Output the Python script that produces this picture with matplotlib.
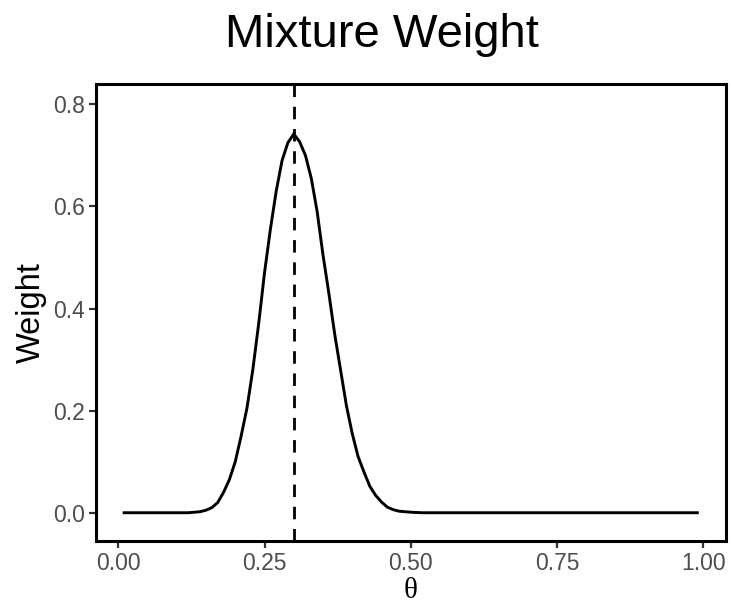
import numpy as np
import matplotlib
matplotlib.use("Agg")
import matplotlib.pyplot as plt

# theta grid 0.01 .. 0.99
theta = np.round(np.arange(1, 100) / 100, 2)

# weights (non-zero part between 0.12 and 0.51)
theta_nz = [0.12, 0.13, 0.14, 0.15, 0.16, 0.17, 0.18, 0.19, 0.20, 0.21,
            0.22, 0.23, 0.24, 0.25, 0.26, 0.27, 0.28, 0.29, 0.30, 0.31,
            0.32, 0.33, 0.34, 0.35, 0.36, 0.37, 0.38, 0.39, 0.40, 0.41,
            0.42, 0.43, 0.44, 0.45, 0.46, 0.47, 0.48, 0.49, 0.50, 0.51]
weight_nz = [0.000, 0.001, 0.002, 0.005, 0.010, 0.020, 0.040, 0.065, 0.100, 0.150,
             0.205, 0.280, 0.370, 0.470, 0.555, 0.630, 0.690, 0.725, 0.742, 0.727,
             0.700, 0.655, 0.590, 0.505, 0.430, 0.350, 0.280, 0.210, 0.155, 0.110,
             0.080, 0.052, 0.034, 0.021, 0.011, 0.006, 0.003, 0.002, 0.001, 0.0005]

weight = np.zeros_like(theta)
for t, w in zip(theta_nz, weight_nz):
    weight[np.argmin(np.abs(theta - t))] = w

true_theta = 0.30

x_ticks = [0.00, 0.25, 0.50, 0.75, 1.00]
x_ticklabels = ["0.00", "0.25", "0.50", "0.75", "1.00"]
y_ticks = [0.0, 0.2, 0.4, 0.6, 0.8]
y_ticklabels = ["0.0", "0.2", "0.4", "0.6", "0.8"]

plt.rcParams['font.family'] = ['Liberation Sans', 'DejaVu Sans']

fig = plt.figure(figsize=(7.31, 6.03), dpi=100)
ax = fig.add_axes([95.7 / 731, 1 - 540.7 / 603, (726 - 95.7) / 731, (540.7 - 84) / 603])

ax.plot(theta, weight, color='black', lw=2.1, solid_joinstyle='miter')
ax.axvline(true_theta, color='black', lw=2.0, linestyle=(0, (4.5, 3.5)))

ax.set_xlim(-0.0386, 1.039)
ax.set_ylim(-0.0548, 0.840)

ax.set_xticks(x_ticks)
ax.set_xticklabels(x_ticklabels)
ax.set_yticks(y_ticks)
ax.set_yticklabels(y_ticklabels)

ax.tick_params(axis='both', which='major', length=5, width=1.6, color='#333333',
               labelsize=16.5, labelcolor='#4D4D4D', pad=3)

for s in ax.spines.values():
    s.set_linewidth(2.2)
    s.set_color('black')

ax.set_ylabel("Weight", fontsize=23.5, color='black', labelpad=4)
ax.set_xlabel("θ", fontsize=21, family=['Liberation Serif', 'DejaVu Serif'], labelpad=2)

fig.text(382 / 731, 1 - 35 / 603, "Mixture Weight", fontsize=34,
         ha='center', va='center', color='black')

fig.savefig("out.png", dpi=100)
